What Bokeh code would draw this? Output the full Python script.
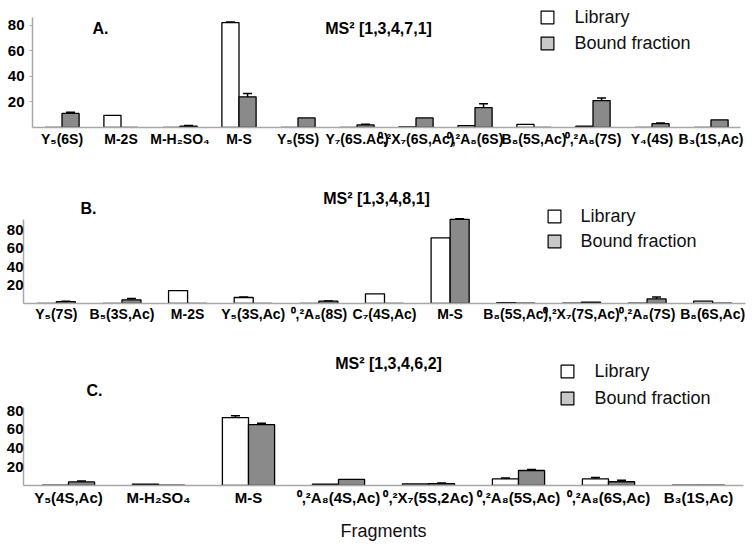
from bokeh.plotting import figure
from bokeh.models import (FactorRange, Range1d, ColumnDataSource, Whisker, TeeHead,
                          Legend, LegendItem, Label, FixedTicker)
from bokeh.transform import dodge
from bokeh.embed import file_html
from bokeh.resources import INLINE

# ---------------- data ----------------
a_cats = ["Y₅(6S)", "M-2S", "M-H₂SO₄", "M-S", "Y₅(5S)", "Y₇(6S.Ac)", "⁰,²X₇(6S,Ac)",
          "⁰,²A₈(6S)", "B₈(5S,Ac)", "⁰,²A₈(7S)", "Y₄(4S)", "B₃(1S,Ac)"]
a_library = [0, 9.5, 0, 82, 0, 0, 0.5, 1.5, 2.5, 1, 0, 0]
a_library_err = [0, 0, 0, 0.5, 0, 0, 0, 0, 0, 0, 0, 0]
a_bound = [11, 0, 1, 24, 7.5, 2, 7.5, 15.5, 0, 21, 3, 6]
a_bound_err = [1, 0, 0.5, 2.5, 0, 0.5, 0, 3, 0, 2, 0.5, 0]

b_cats = ["Y₅(7S)", "B₅(3S,Ac)", "M-2S", "Y₅(3S,Ac)", "⁰,²A₈(8S)", "C₇(4S,Ac)", "M-S",
          "B₈(5S,Ac)", "⁰,²X₇(7S,Ac)", "⁰,²A₈(7S)", "B₈(6S,Ac)"]
b_library = [0, 0, 14, 6.5, 0, 10.5, 71, 1, 0.3, 0.3, 2.5]
b_library_err = [0, 0, 0, 0.5, 0, 0, 0, 0, 0, 0, 0]
b_bound = [2, 4, 0, 0, 2.5, 0, 91, 0.3, 1.5, 5, 0.3]
b_bound_err = [0.5, 1.5, 0, 0, 0.3, 0, 0.5, 0, 0, 2, 0]

c_cats = ["Y₅(4S,Ac)", "M-H₂SO₄", "M-S", "⁰,²A₈(4S,Ac)", "⁰,²X₇(5S,2Ac)", "⁰,²A₈(5S,Ac)",
          "⁰,²A₈(6S,Ac)", "B₃(1S,Ac)"]
c_library = [0.5, 1.5, 72.5, 1.5, 1.8, 7, 7, 0.5]
c_library_err = [0, 0, 2, 0, 0, 1, 1.5, 0]
c_bound = [3.8, 0.3, 65, 6.5, 2, 16, 4, 0.3]
c_bound_err = [1, 0, 1.5, 0, 0.7, 1, 1.5, 0]

titles = ["MS² [1,3,4,7,1]", "MS² [1,3,4,8,1]", "MS² [1,3,4,6,2]"]
letters = ["A.", "B.", "C."]
series_names = ["Library", "Bound fraction"]
y_ticks = [20, 40, 60, 80]

FONT = "Liberation Sans"
LIB_COLOR = "white"
BND_COLOR = "#8a8a8a"
BND_LEGEND = "#c8c8c8"
AXIS_COLOR = "#a8a8a8"
W = 752
BAR_W = 0.29
OFF = 0.145


def make_panel(cats, lib, lib_err, bnd, bnd_err, title, letter, g):
    left, right, bottom, height = g["left"], g["right"], g["bottom"], g["height"]
    frame_h = height - bottom
    frame_w = W - left - right
    catw = frame_w / len(cats)
    ymax = g["ymax"]
    fl_page = left
    fb_page = g["page_top"] + frame_h

    def X(px):
        return (px - fl_page) / catw

    def Y(py):
        return (fb_page - py) * ymax / frame_h

    p = figure(x_range=FactorRange(*cats), y_range=Range1d(0, ymax), width=W, height=height,
               output_backend="svg", toolbar_location=None,
               min_border_left=left, min_border_right=right, min_border_top=0,
               min_border_bottom=bottom)
    p.outline_line_color = None
    p.xgrid.grid_line_color = None
    p.ygrid.grid_line_color = None

    src = ColumnDataSource(dict(cat=cats, lib=lib, bnd=bnd))
    p.vbar(x=dodge("cat", -OFF, range=p.x_range), top="lib", width=BAR_W, source=src,
           fill_color=LIB_COLOR, line_color="black", line_width=1.3)
    p.vbar(x=dodge("cat", OFF, range=p.x_range), top="bnd", width=BAR_W, source=src,
           fill_color=BND_COLOR, line_color="black", line_width=1.3)

    for vals, errs, off in ((lib, lib_err, -OFF), (bnd, bnd_err, OFF)):
        idx = [i for i, e in enumerate(errs) if e > 0]
        if not idx:
            continue
        es = ColumnDataSource(dict(cat=[cats[i] for i in idx],
                                   upper=[vals[i] + errs[i] for i in idx],
                                   lower=[vals[i] - errs[i] for i in idx]))
        p.add_layout(Whisker(base=dodge("cat", off, range=p.x_range), upper="upper",
                             lower="lower", source=es, line_color="black", line_width=1.5,
                             upper_head=TeeHead(size=9, line_color="black", line_width=1.5),
                             lower_head=TeeHead(size=9, line_color="black", line_width=1.5)))

    # legend swatches: zero-size, off-frame renderers carrying only the legend styling
    dummy = ColumnDataSource(dict(cat=cats[:1], top=[-5], bottom=[-5]))
    r1 = p.vbar(x="cat", top="top", bottom="bottom", width=0, source=dummy,
                fill_color="white", line_color="black", line_width=1.2)
    r2 = p.vbar(x="cat", top="top", bottom="bottom", width=0, source=dummy,
                fill_color=BND_LEGEND, line_color="black", line_width=1.2)
    leg = Legend(items=[LegendItem(label=series_names[0], renderers=[r1]),
                        LegendItem(label=series_names[1], renderers=[r2])],
                 location=(g["leg_x"] - fl_page, fb_page - g["leg_bottom"]),
                 border_line_color=None, background_fill_alpha=0, padding=0, margin=0,
                 spacing=g["leg_spacing"], glyph_width=16, glyph_height=16, label_height=20,
                 label_standoff=g["leg_standoff"], label_text_font=FONT,
                 label_text_font_size="18px", label_text_color="#111111")
    p.add_layout(leg)

    p.add_layout(Label(x=X(g["title_x"]), y=Y(g["title_y"]), text=title, text_align="center",
                       text_baseline="middle", text_font=FONT, text_font_style="bold",
                       text_font_size="16px", text_color="black"))
    p.add_layout(Label(x=X(g["letter_x"]), y=Y(g["letter_y"]), text=letter, text_align="left",
                       text_baseline="middle", text_font=FONT, text_font_style="bold",
                       text_font_size="16px", text_color="black"))

    xa = p.xaxis[0]
    xa.axis_line_color = AXIS_COLOR
    xa.axis_line_width = 1.5
    xa.major_tick_line_color = None
    xa.major_tick_out = 0
    xa.major_tick_in = 0
    xa.minor_tick_line_color = None
    xa.major_label_standoff = g["xstand"]
    xa.major_label_text_font = FONT
    xa.major_label_text_font_style = "bold"
    xa.major_label_text_font_size = g["xfont"]
    xa.major_label_text_color = "black"
    if g.get("xlabel"):
        xa.axis_label = g["xlabel"]
        xa.axis_label_text_font = FONT
        xa.axis_label_text_font_style = "normal"
        xa.axis_label_text_font_size = "18px"
        xa.axis_label_text_color = "#111111"
        xa.axis_label_standoff = 12

    ya = p.yaxis[0]
    ya.ticker = FixedTicker(ticks=y_ticks)
    ya.bounds = (0, g["ybound"])
    ya.axis_line_color = AXIS_COLOR
    ya.axis_line_width = 1.5
    ya.major_tick_line_color = AXIS_COLOR
    ya.major_tick_out = g["ytick"]
    ya.major_tick_in = 0
    ya.minor_tick_line_color = None
    ya.major_label_standoff = g["ystand"]
    ya.major_label_text_font = FONT
    ya.major_label_text_font_style = "bold"
    ya.major_label_text_font_size = "15px"
    ya.major_label_text_color = "black"
    return p


ga = dict(left=32, right=12, bottom=33, height=160, page_top=0, ymax=127 / 1.28, ybound=86,
          xfont="14px", xstand=3, ytick=3, ystand=5,
          title_x=378, title_y=28, letter_x=92, letter_y=28,
          leg_x=539.4, leg_bottom=53.5, leg_spacing=5, leg_standoff=19)
gb = dict(left=23, right=7, bottom=32, height=175, page_top=160, ymax=143 / 0.925, ybound=91,
          xfont="14px", xstand=2, ytick=0, ystand=0,
          title_x=376, title_y=198, letter_x=80, letter_y=208,
          leg_x=546.4, leg_bottom=251.5, leg_spacing=4, leg_standoff=18)
gc = dict(left=23, right=9, bottom=63, height=213, page_top=335, ymax=150 / 0.9375, ybound=83,
          xfont="15px", xstand=3, ytick=0, ystand=0, xlabel="Fragments",
          title_x=388, title_y=363, letter_x=86, letter_y=390,
          leg_x=559.4, leg_bottom=408.5, leg_spacing=6, leg_standoff=19)

pa = make_panel(a_cats, a_library, a_library_err, a_bound, a_bound_err, titles[0], letters[0], ga)
pb = make_panel(b_cats, b_library, b_library_err, b_bound, b_bound_err, titles[1], letters[1], gb)
pc = make_panel(c_cats, c_library, c_library_err, c_bound, c_bound_err, titles[2], letters[2], gc)

# three independent roots stacked on the page (no cross-plot border alignment)
p = [pa, pb, pc]
open("out.html", "w").write(file_html(p, INLINE))
